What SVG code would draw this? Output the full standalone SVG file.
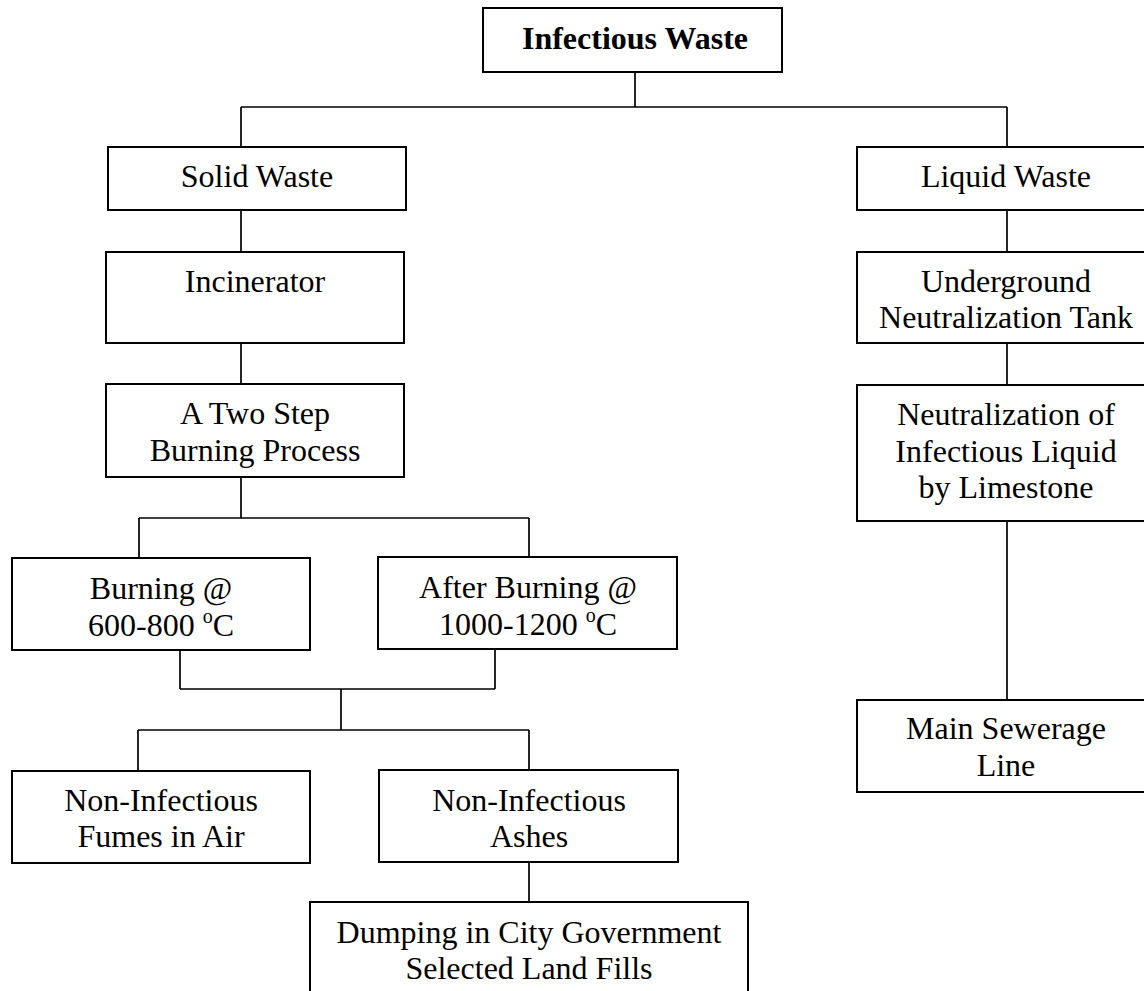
<svg xmlns="http://www.w3.org/2000/svg" width="1144" height="991" viewBox="0 0 1144 991">
<style>
.box{fill:#fff;stroke:#000;stroke-width:2}
.t{font-family:"Liberation Serif","Times New Roman",serif;font-size:32px;fill:#000;text-anchor:middle}
.b{font-weight:bold}
.c{fill:none;stroke:#000;stroke-width:1.7}
</style>
<rect width="1144" height="991" fill="#fff"/>
<g id="connectors">
<path class="c" d="M635 72V107M241 107H1007M241 107V147M1007 107V147"/>
<path class="c" d="M241 210V252M241 343V384M241 477V518M139 518H529M139 518V558M529 518V557"/>
<path class="c" d="M180 650V689M495 649V689M180 689H495M341 689V730M138 730H529M138 730V771M529 730V770M529 862V902"/>
<path class="c" d="M1007 210V252M1007 343V384M1007 521V700"/>
</g>
<g id="infectious-waste"><rect class="box" x="483" y="8" width="299" height="64"/><text class="t b" x="635" y="49">Infectious Waste</text></g>
<g id="solid-waste"><rect class="box" x="108" y="147" width="298" height="63"/><text class="t" x="257" y="187">Solid Waste</text></g>
<g id="incinerator"><rect class="box" x="106" y="252" width="298" height="91"/><text class="t" x="255" y="292">Incinerator</text></g>
<g id="two-step"><rect class="box" x="106" y="384" width="298" height="93"/><text class="t" x="255" y="424">A Two Step</text><text class="t" x="255" y="461">Burning Process</text></g>
<g id="burning"><rect class="box" x="12" y="558" width="298" height="92"/><text class="t" x="161" y="599">Burning @</text><text class="t" x="161" y="636">600-800 <tspan font-size="20" dy="-13">o</tspan><tspan dy="13">C</tspan></text></g>
<g id="after-burning"><rect class="box" x="378" y="557" width="299" height="92"/><text class="t" x="528" y="598">After Burning @</text><text class="t" x="528" y="635">1000-1200 <tspan font-size="20" dy="-13">o</tspan><tspan dy="13">C</tspan></text></g>
<g id="fumes"><rect class="box" x="12" y="771" width="298" height="92"/><text class="t" x="161" y="811">Non-Infectious</text><text class="t" x="161" y="847">Fumes in Air</text></g>
<g id="ashes"><rect class="box" x="379" y="770" width="299" height="92"/><text class="t" x="529" y="811">Non-Infectious</text><text class="t" x="529" y="847">Ashes</text></g>
<g id="dumping"><rect class="box" x="310" y="902" width="438" height="100"/><text class="t" x="529" y="943">Dumping in City Government</text><text class="t" x="529" y="979">Selected Land Fills</text></g>
<g id="liquid-waste"><rect class="box" x="857" y="147" width="298" height="63"/><text class="t" x="1006" y="187">Liquid Waste</text></g>
<g id="underground"><rect class="box" x="857" y="252" width="298" height="91"/><text class="t" x="1006" y="292">Underground</text><text class="t" x="1006" y="328">Neutralization Tank</text></g>
<g id="neutralization"><rect class="box" x="857" y="385" width="298" height="136"/><text class="t" x="1006" y="425">Neutralization of</text><text class="t" x="1006" y="462">Infectious Liquid</text><text class="t" x="1006" y="498">by Limestone</text></g>
<g id="sewerage"><rect class="box" x="857" y="700" width="298" height="92"/><text class="t" x="1006" y="739">Main Sewerage</text><text class="t" x="1006" y="776">Line</text></g>
</svg>
